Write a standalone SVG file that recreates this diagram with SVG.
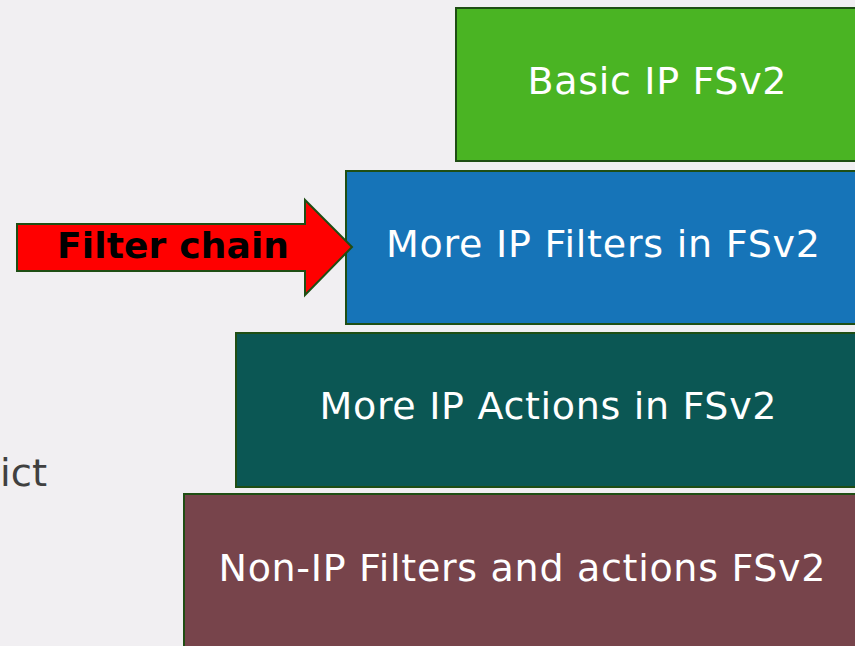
<svg xmlns="http://www.w3.org/2000/svg" width="855" height="646" viewBox="0 0 855 646">
  <style>
    .box { stroke: #1f4e14; stroke-width: 2; }
    .lbl { font-family: "DejaVu Sans", Verdana, sans-serif; font-size: 38px; fill: #ffffff; text-anchor: middle; }
  </style>
  <rect width="855" height="646" fill="#f1eff2"/>
  <text x="0" y="486" font-family="DejaVu Sans, sans-serif" font-size="37" fill="#404040" textLength="47" lengthAdjust="spacingAndGlyphs">ict</text>
  <g id="basic-ip">
    <rect class="box" x="456" y="8" width="410" height="153" fill="#4ab423"/>
    <text class="lbl" x="657" y="94" textLength="259">Basic IP FSv2</text>
  </g>
  <g id="more-ip-filters">
    <rect class="box" x="346" y="171" width="520" height="153" fill="#1674b8"/>
    <text class="lbl" x="603" y="257" textLength="434">More IP Filters in FSv2</text>
  </g>
  <g id="more-ip-actions">
    <rect class="box" x="236" y="333" width="630" height="154" fill="#0b5754"/>
    <text class="lbl" x="548" y="419" textLength="457">More IP Actions in FSv2</text>
  </g>
  <g id="non-ip">
    <rect class="box" x="184" y="494" width="682" height="160" fill="#77444b"/>
    <text class="lbl" x="522" y="581" textLength="607">Non-IP Filters and actions FSv2</text>
  </g>
  <g id="filter-chain">
    <path d="M17 224 H305 V200 L352 247 L305 295 V271 H17 Z" fill="#ff0000" stroke="#1f4e14" stroke-width="2"/>
    <text x="173" y="258" font-family="DejaVu Sans, sans-serif" font-weight="bold" font-size="36" fill="#000" text-anchor="middle" textLength="232">Filter chain</text>
  </g>
</svg>
